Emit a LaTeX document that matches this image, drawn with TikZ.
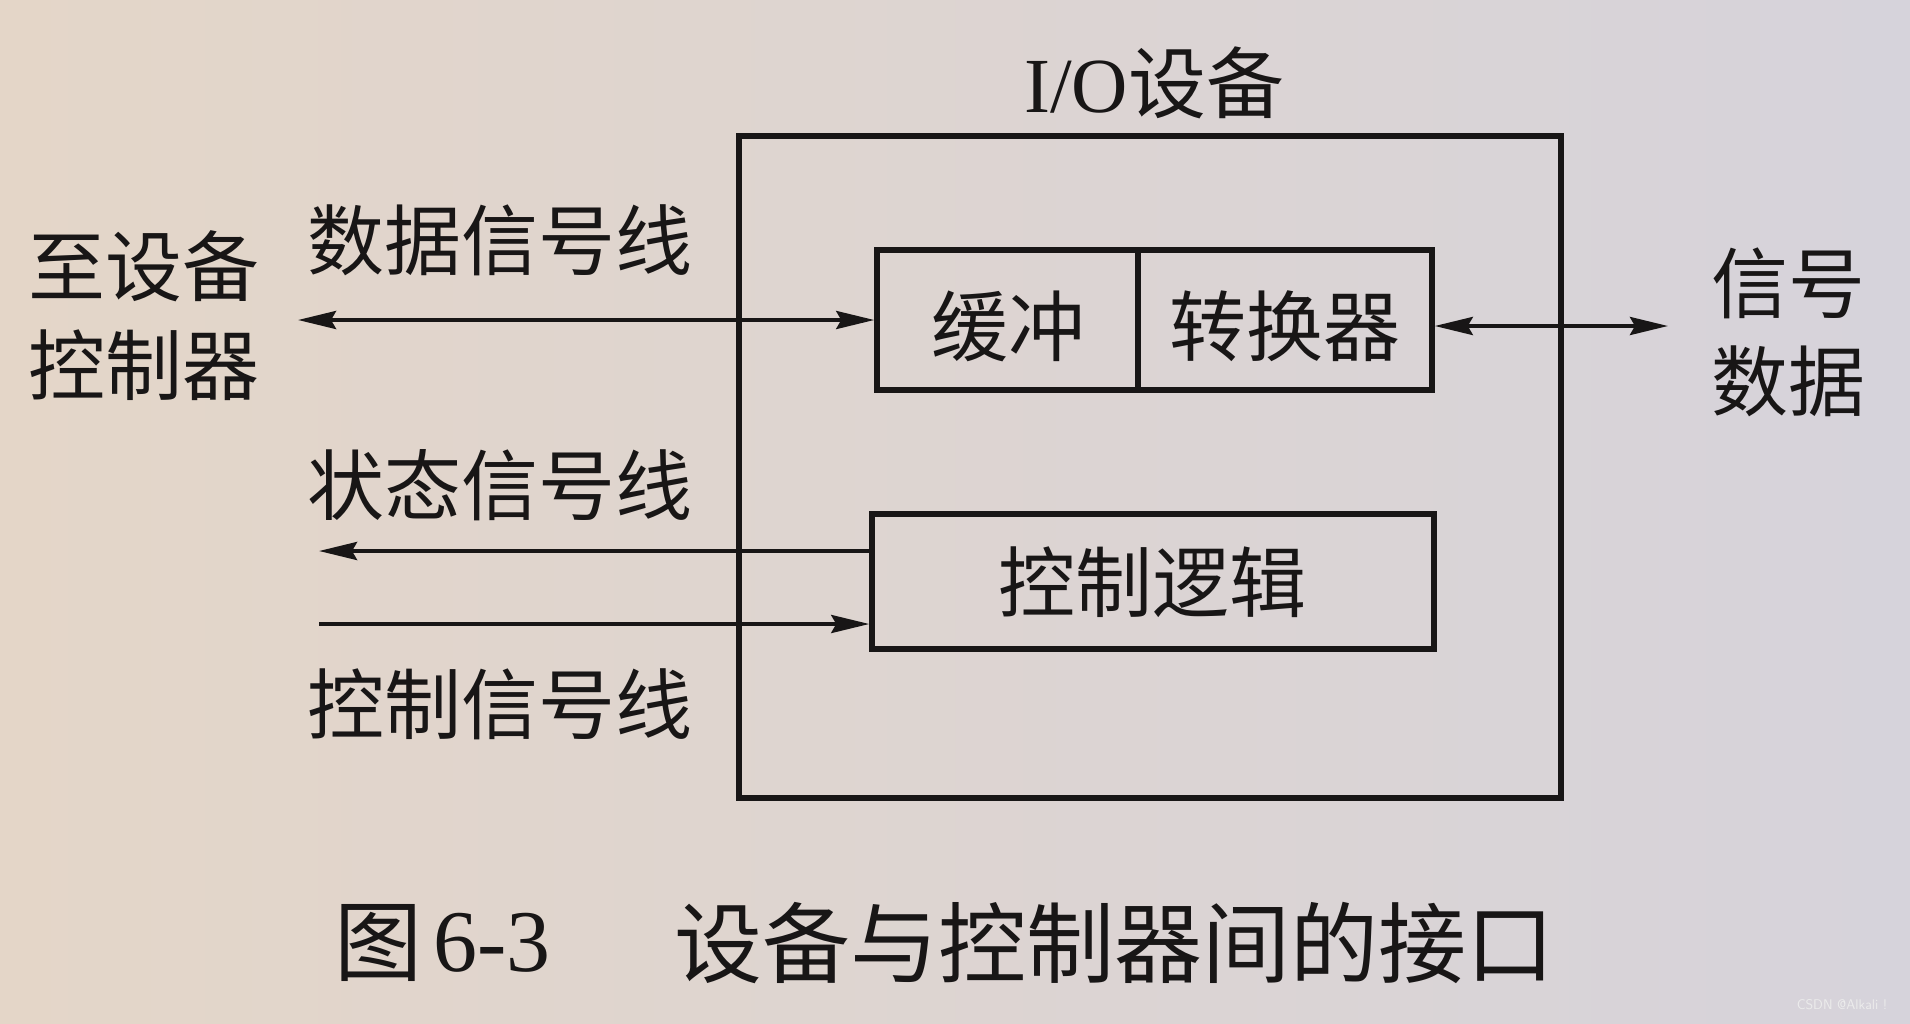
\documentclass[tikz,border=0pt]{standalone}
\usepackage{fontspec}
\setmainfont{Liberation Serif}
\newfontfamily\cjk{Noto Sans CJK SC}
\usetikzlibrary{arrows.meta}
\definecolor{paperL}{RGB}{228,214,200}
\definecolor{paperR}{RGB}{214,211,219}
\definecolor{ink}{RGB}{24,22,22}
\tikzset{
  lab/.style={font=\cjk\fontsize{77}{80}\selectfont, text=ink, inner sep=0pt},
  capt/.style={font=\cjk\fontsize{88}{90}\selectfont, text=ink, inner sep=0pt},
  blk/.style={draw=ink, line width=5.5pt},
  sig/.style={draw=ink, line width=4pt},
  tip/.style={-{Stealth[length=38pt,width=18pt,inset=5pt]}},
  tips/.style={{Stealth[length=38pt,width=18pt,inset=5pt]}-{Stealth[length=38pt,width=18pt,inset=5pt]}}
}
\begin{document}
\begin{tikzpicture}[x=1pt,y=-1pt]
\useasboundingbox (0,0) rectangle (1910,1023);
\shade[left color=paperL, right color=paperR] (0,0) rectangle (1910,1023);

% outer box
\node[blk, minimum width=822pt, minimum height=662pt, inner sep=0pt] (io) at (1150,467) {};
\node[font=\fontsize{78}{80}\selectfont, text=ink, inner sep=0pt] (iot) at (1154,83) {I/O{\cjk 设备}};

% inner blocks
\node[blk, minimum width=261pt, minimum height=140pt, inner sep=0pt] (buf) at (1007.5,320) {};
\node[blk, minimum width=294pt, minimum height=140pt, inner sep=0pt] (conv) at (1285,320) {};
\node[lab] (buft) at (1008,326) {缓冲};
\node[lab] (convt) at (1285,326) {转换器};
\node[blk, minimum width=562pt, minimum height=135pt, inner sep=0pt] (logic) at (1153,581.5) {};
\node[lab] (logict) at (1152,582) {控制逻辑};

% labels
\node[lab] (datat) at (500,240) {数据信号线};
\node[lab] (statt) at (500,485) {状态信号线};
\node[lab] (ctrlt) at (500,704) {控制信号线};
\node[lab] (ctl1) at (144,266) {至设备};
\node[lab] (ctl2) at (144,365) {控制器};
\node[lab] (sd1) at (1788,283) {信号};
\node[lab] (sd2) at (1788,381) {数据};

% connector ends
\coordinate (dataL) at (298,320);
\coordinate (sigR) at (1668,326);
\coordinate (statL) at (319,551);
\coordinate (ctrlL) at (319,624);

\draw[sig,tips] (dataL) -- (buf.west);
\draw[sig,tips] (conv.east |- sigR) -- (sigR);
\draw[sig,tip] (logic.west |- statL) -- (statL);
\draw[sig,tip] (ctrlL) -- (logic.west |- ctrlL);

% caption
\node[capt] (c1) at (378,943) {图};
\node[font=\fontsize{88}{90}\selectfont, text=ink, inner sep=0pt] (c2) at (492,943) {6-3};
\node[capt] (c3) at (1114,943) {设备与控制器间的接口};

% watermark
\node[font=\sffamily\fontsize{14}{16}\selectfont, text=white!85!gray, inner sep=0pt] (wm) at (1842,1005) {CSDN @Alkali !};
\end{tikzpicture}
\end{document}
